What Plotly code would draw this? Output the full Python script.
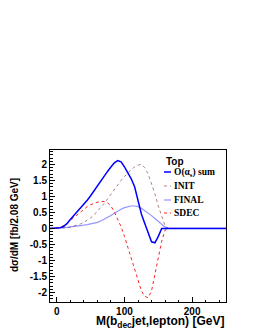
import plotly.graph_objects as go

# M(b_dec jet, lepton) [GeV]
mass = [-10, -5, 0, 5, 10, 15, 20, 25, 30, 35, 40, 45, 50, 55, 60, 65, 70, 75, 80, 85,
        90, 95, 100, 105, 110, 115, 120, 125, 130, 135, 140, 145, 150, 155, 160, 165,
        170, 180, 190, 200, 210, 220, 230, 240, 250]

sum_vals = [0, 0, 0.0, 0.02, 0.06, 0.15, 0.28, 0.40, 0.52, 0.62, 0.75, 0.88, 1.02, 1.18, 1.32, 1.48,
            1.62, 1.78, 1.92, 2.05, 2.12, 2.08, 1.92, 1.75, 1.55, 1.30, 0.85, 0.45, 0.15, -0.15,
            -0.42, -0.45, -0.25, 0.0, 0.0, 0.0, 0, 0, 0, 0, 0, 0, 0, 0, 0]

init_vals = [0, 0, 0, 0, 0.01, 0.02, 0.04, 0.07, 0.10, 0.14, 0.19, 0.25, 0.33, 0.42, 0.53, 0.65,
             0.78, 0.92, 1.07, 1.22, 1.36, 1.50, 1.62, 1.74, 1.84, 1.92, 1.98, 2.00, 1.90, 1.70,
             1.42, 1.08, 0.70, 0.35, 0.08, 0, 0, 0, 0, 0, 0, 0, 0, 0, 0]

final_vals = [0, 0, 0, 0.01, 0.02, 0.03, 0.04, 0.05, 0.06, 0.08, 0.10, 0.12, 0.14, 0.16, 0.19, 0.23,
              0.28, 0.34, 0.40, 0.47, 0.54, 0.60, 0.65, 0.68, 0.70, 0.70, 0.68, 0.63, 0.56, 0.48,
              0.40, 0.31, 0.22, 0.12, 0.04, 0, 0, 0, 0, 0, 0, 0, 0, 0, 0]

sdec_vals = [0, 0, 0.0, 0.03, 0.08, 0.15, 0.25, 0.34, 0.44, 0.53, 0.61, 0.68, 0.74, 0.79, 0.82, 0.84,
             0.84, 0.80, 0.70, 0.52, 0.30, 0.05, -0.25, -0.60, -0.95, -1.30, -1.65, -1.95, -2.12, -2.17,
             -1.95, -1.45, -0.90, -0.40, -0.05, 0, 0, 0, 0, 0, 0, 0, 0, 0, 0]

names = ["O(α<sub>s</sub>) sum", "INIT", "FINAL", "SDEC"]
legend_title = "Top"

y_tickvals = [-2, -1.5, -1, -0.5, 0, 0.5, 1, 1.5, 2]
y_ticktext = ["-2", "-1.5", "-1", "-0.5", "0", "0.5", "1", "1.5", "2"]
x_tickvals = [0, 100, 200]
x_ticktext = ["0", "100", "200"]

col_sum = "#0000ff"
col_init = "#b08080"
col_final = "rgba(60,60,255,0.55)"
col_sdec = "#ff2020"

fig = go.Figure()
fig.add_trace(go.Scatter(x=mass, y=init_vals, mode="lines",
                         line=dict(color=col_init, width=1, dash="dot"), showlegend=False))
fig.add_trace(go.Scatter(x=mass, y=final_vals, mode="lines",
                         line=dict(color=col_final, width=1.2), showlegend=False))
fig.add_trace(go.Scatter(x=mass, y=sdec_vals, mode="lines",
                         line=dict(color=col_sdec, width=1, dash="dot"), showlegend=False))
fig.add_trace(go.Scatter(x=mass, y=sum_vals, mode="lines",
                         line=dict(color=col_sum, width=1.5), showlegend=False))

fig.update_layout(
    width=255, height=330,
    margin=dict(l=50, r=29, t=150, b=28),
    paper_bgcolor="white", plot_bgcolor="white",
    font=dict(family="Liberation Sans, Arial, sans-serif", color="black"),
    hovermode=False,
)

fig.update_xaxes(range=[-10, 250], showline=True, linecolor="black", linewidth=1, mirror=True,
                 showgrid=False, zeroline=False,
                 tickmode="array", tickvals=x_tickvals, ticktext=x_ticktext,
                 ticks="inside", ticklen=5, tickcolor="black", tickwidth=1,
                 tickfont=dict(size=10, weight="bold", family="Liberation Sans"),
                 minor=dict(ticks="inside", ticklen=2.5, dtick=20, tick0=0, tickcolor="black"))
fig.update_yaxes(range=[-2.30, 2.45], showline=True, linecolor="black", linewidth=1, mirror=True,
                 showgrid=False, zeroline=False,
                 tickmode="array", tickvals=y_tickvals, ticktext=y_ticktext,
                 ticks="inside", ticklen=5, tickcolor="black", tickwidth=1,
                 tickfont=dict(size=10, weight="bold", family="Liberation Sans"),
                 minor=dict(ticks="inside", ticklen=2.5, dtick=0.1, tick0=0, tickcolor="black"))

def px2paper_x(px):
    return (px - 50) / 176.0

def px2paper_y(py):
    return (302 - py) / 152.0

annotations = []
shapes = []
# axis titles
annotations.append(dict(text="M(b<sub>dec</sub>jet,lepton) [GeV]", xref="paper", yref="paper",
                        x=1.0, y=px2paper_y(311.5), xanchor="right", yanchor="top", showarrow=False,
                        font=dict(size=12, weight="bold", family="Liberation Sans")))
annotations.append(dict(text="dσ/dM [fb/2.08 GeV]", xref="paper", yref="paper",
                        x=px2paper_x(14), y=px2paper_y(225), xanchor="center", yanchor="middle",
                        showarrow=False, textangle=-90,
                        font=dict(size=10, weight="bold", family="Liberation Sans")))
# legend
annotations.append(dict(text=legend_title, xref="paper", yref="paper",
                        x=px2paper_x(164), y=px2paper_y(161), xanchor="left", yanchor="middle",
                        showarrow=False, font=dict(size=10, weight="bold", family="Liberation Sans")))
rows = [172, 186, 200, 213]
styles = [dict(color=col_sum, width=1.5), dict(color=col_init, width=1, dash="dot"),
          dict(color=col_final, width=1.2), dict(color=col_sdec, width=1, dash="dot")]
for nm, py, st in zip(names, rows, styles):
    shapes.append(dict(type="line", xref="paper", yref="paper",
                       x0=px2paper_x(164), x1=px2paper_x(171), y0=px2paper_y(py), y1=px2paper_y(py),
                       line=st))
    annotations.append(dict(text=nm, xref="paper", yref="paper",
                            x=px2paper_x(171.5), y=px2paper_y(py), xanchor="left", yanchor="middle",
                            showarrow=False,
                            font=dict(size=9.5, weight="bold", family="Liberation Serif")))
fig.update_layout(annotations=annotations, shapes=shapes)

fig.write_html("out.html", config={"displayModeBar": False, "staticPlot": True},
               post_script="document.body.style.margin='0';document.body.style.padding='0';"
                           "document.documentElement.style.overflow='hidden';")
